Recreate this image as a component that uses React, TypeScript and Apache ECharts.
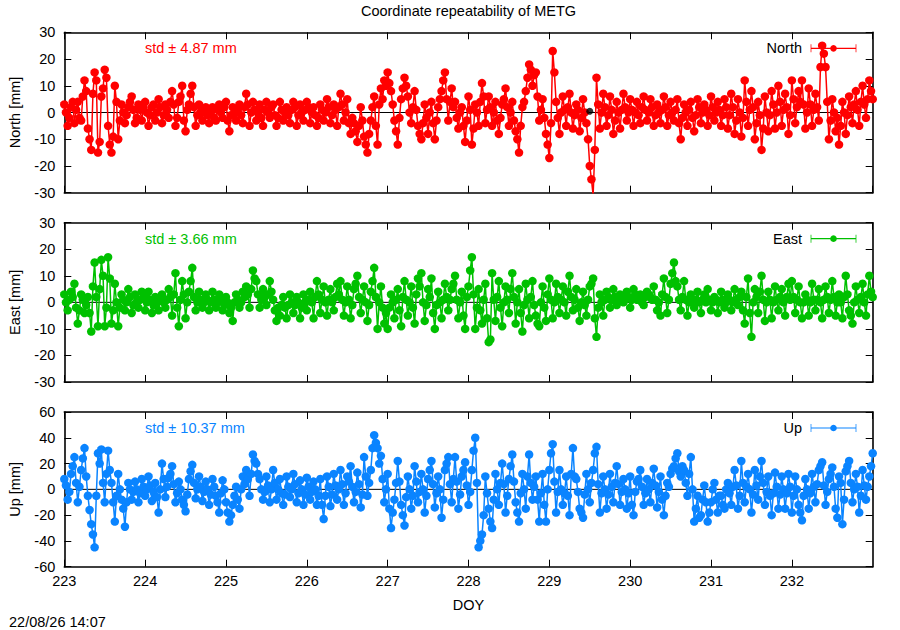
import React, { useEffect, useRef } from "react";
import * as echarts from "echarts";

const DOY_START = 223;
const DOY_END = 233;
const TITLE = "Coordinate repeatability of METG";
const TIMESTAMP = "22/08/26 14:07";
const X_NAME = "DOY";

// half-hourly samples, DOY 223.0 .. 233.0 (values in mm)
const north = [
  3, 0, -5, -2, 2, 4, -4, 1, 4, -2, -3, 6, 12, 8, -6, -10, -14, 7, 15, 12,
  -15, -11, 6, 9, 16, 13, -5, -12, -15, -9, 10, 4, -10, -3, 3, 0, -4, -1, 2, 4,
  6, 1, -4, -2, 3, 1, -3, 2, 4, 0, -5, -1, 2, 3, -3, 0, 5, 2, -4, -1,
  3, 1, -2, 4, 8, 3, -5, -2, 4, 6, 10, -3, -7, 1, 3, 7, 10, 2, -5, -1,
  3, 0, -3, 1, 2, -1, -4, 0, 2, -2, -3, 1, 3, 0, -2, 2, 4, -3, -7, -1,
  2, 0, -3, 1, 3, -1, -4, 2, 7, 3, -5, 0, 4, 1, -3, 0, 3, -2, -5, 1,
  4, 0, -2, 2, 3, -1, -5, -2, 4, 1, -3, 0, 2, -1, -4, 1, 4, 2, -5, -1,
  3, 0, -3, 1, 4, 2, -4, 0, 2, -1, -5, -2, 3, 1, -3, 0, 5, 2, -4, -1,
  3, 1, -5, 2, 7, 3, -3, 0, 5, -4, -8, -2, -4, -7, -11, -5, 2, -3, -9, -12,
  -15, -8, -3, 2, 6, -5, -12, 3, 9, 5, 12, 10, 15, 11, 8, 3, -3, -7, -12, -2,
  5, 9, 13, 10, 6, 0, -4, 2, 8, 1, -5, -8, -10, -4, 3, -2, -8, 0, 4, -4,
  -10, -3, 2, 5, 8, 12, 15, 5, -3, 4, 9, 2, 4, -2, -6, 0, 2, -5, -11, -3,
  6, 1, -12, -6, 3, 0, -5, 4, 11, 6, -4, 1, 6, 2, -5, 0, 4, -3, -8, -2,
  3, 5, 9, 2, -5, 0, 4, -3, -7, -10, -15, -5, 2, 4, 8, 13, 18, 16, 10, 14,
  15, 6, -3, 1, 5, -2, -8, -12, -17, -4, 23, 15, 4, -2, -8, 0, 6, 1, -5, 2,
  7, 0, -6, -1, 3, 1, -7, -2, 5, 0, -4, -10, -20, -25, -31, -14, 13, 3, -6, 0,
  7, 2, -5, -1, 6, 1, -8, -3, 4, 0, -6, 1, 7, 2, -3, 0, 5, 1, -5, 0,
  4, -1, -4, 2, 6, 1, -3, 0, 5, 2, -5, -1, 3, 0, -4, 1, 6, 2, -5, -1,
  4, 0, -3, 1, 5, -4, -10, -2, 3, 0, -5, 1, 4, -2, -7, -1, 5, 2, -4, 0,
  3, 1, -5, -1, 6, 2, -3, 0, 4, 1, -5, -1, 5, 2, -6, -1, 7, 2, -8, -3,
  5, 0, -9, -2, 12, 4, -5, 1, 8, 2, -10, -4, 4, -1, -14, -6, 6, 0, -7, -1,
  8, 3, -6, 0, 10, 4, -5, 1, 7, 2, -8, -1, 12, 5, -4, 2, 8, 4, 12, 3,
  -6, 0, 9, 3, -5, 1, 7, 2, -3, 17, 25, 22, 17, 4, -10, -3, 5, 0, -7, -2,
  -12, -5, 4, 0, -8, -1, 6, 2, -4, 3, 8, 1, -5, 4, 10, 3, -2, 5, 12, 8,
  5,
];

const east = [
  3, 0, -3, 1, 4, 2, 7, -2, -8, -3, 3, 1, -4, -1, 2, -4, -11, 6, 15, 2,
  -9, 5, 16, 10, -9, -2, 17, 9, -8, -3, 7, 0, -9, -2, 3, 1, -3, 0, 5, 2,
  -4, -1, 3, 0, -2, 1, 4, 2, -3, 0, 4, 1, -4, -1, 2, 0, -3, 1, 3, 0,
  -2, 1, 5, 2, -5, 3, 11, -2, -9, 1, 8, 3, -6, 0, 4, 8, 13, 2, -3, 0,
  4, 1, -2, 0, 3, 1, -3, 0, 4, 1, -2, 0, 3, 1, -3, -1, 2, 0, -4, -2,
  -7, 0, 3, 1, -2, 0, 4, 2, 6, 3, -2, 5, 12, 9, 8, 3, -2, 1, 5, 2,
  -1, 3, 8, 4, 1, -3, -7, -2, -5, -1, 2, -2, -6, -1, 3, 0, -4, -1, 2, 0,
  -6, -2, 3, 0, -3, 1, 4, 0, -6, 2, 8, 3, -4, 1, 6, 0, -5, 1, 5, 0,
  -3, 2, 7, 3, 8, 1, -5, 0, 6, 1, -6, -1, 5, 7, 10, 2, -4, 1, 6, 0,
  -7, -1, 4, 8, 13, 2, -10, 0, 6, -2, -8, -4, -10, -2, 3, 0, -6, 1, 5, -3,
  -9, 2, 8, 1, -5, 0, 6, -2, -8, 3, 9, 6, 11, 0, -7, -1, 5, 2, 9, -4,
  -10, -1, 4, 0, -6, 1, 7, 2, -3, 1, 5, 7, 10, 1, -6, 0, 4, -5, -10, 2,
  6, 12, 17, 3, -10, -2, 5, -3, -8, 1, 7, -6, -15, -14, 11, 1, -7, 2, 8, -2,
  -9, 0, 6, 1, -4, 5, 11, 2, -8, 0, 5, -4, -11, -1, 7, 1, -6, 2, 8, -1,
  -5, -8, -9, 0, 6, -2, -7, 3, 9, 1, -6, 0, 7, 2, -4, 1, 6, 0, -5, 4,
  10, 2, -3, 1, 5, -2, -7, 0, 4, -1, -5, 1, 6, 7, 9, -6, -13, -2, 3, 0,
  -5, 1, 4, 2, -2, 1, 5, 2, -1, 1, 3, 2, 0, 1, 4, 2, -2, 1, 5, 3,
  1, 2, 3, 0, -1, 2, 4, 3, 2, 1, 6, 1, -3, 0, -5, 3, 9, 2, -4, 1,
  7, 11, 15, 8, 6, 1, -3, 2, 8, 1, -5, 0, 3, 1, -2, 1, 4, 0, -4, 1,
  3, 0, 5, 1, -3, 0, 2, 1, -4, 0, 4, 1, -2, 0, 3, 1, -3, 0, 5, 1,
  -1, 2, 4, -3, -8, 2, 9, -4, -13, 0, 5, 2, -4, 4, 10, 1, -7, 0, 4, 1,
  -6, 0, 6, 1, -3, 2, 5, 0, -5, 2, 7, 1, 8, 2, -4, 1, 6, 0, -6, 0,
  3, 1, -5, 0, 7, 1, -3, 1, 5, 0, -6, 1, 6, 2, -4, 1, 8, 2, -5, 0,
  3, 0, -6, 2, 10, 3, -3, -5, -8, 0, 6, 1, -4, 2, 7, 0, -5, 3, 10, 4,
  2,
];

const up = [
  8, 3, -8, -2, 12, 18, 25, 5, -10, 2, 15, 24, 32, 10, -5, -16, -27, -35, -45, -5,
  28, 20, 31, 5, -10, 12, 30, 15, 5, -10, -25, -5, 12, 0, -8, -15, -29, -10, 5, 0,
  -8, -2, 6, 0, -10, -3, 8, 2, -5, 0, 10, 3, -9, -2, 5, -6, -18, 0, 20, 8,
  -6, 2, 9, 12, 18, 4, -10, -3, 6, 0, -8, -12, -17, -4, 8, 14, 19, 5, -7, 0,
  10, 2, -9, -2, 6, 0, -12, -4, 8, 2, -5, -10, -18, -3, 7, 0, -10, -18, -25, -20,
  -12, -5, 2, -8, -15, 0, 10, 4, 15, 8, -5, 12, 27, 22, 20, 12, 8, 0, -8, -2,
  10, 3, -10, 0, 15, 5, -8, 0, 8, -3, -12, -4, 10, 2, -6, 0, 12, 4, -10, -3,
  7, 0, -12, -4, 9, 2, -8, -2, 6, 0, -12, -5, 8, -12, -23, -5, 10, 2, -13, -4,
  12, 3, -8, 0, 15, 4, -12, -3, 10, 6, 18, 2, -10, -2, 13, 4, -14, -4, 25, 10,
  -5, 5, 15, 32, 42, 36, 32, 20, 26, 8, -10, 0, 12, -15, -30, -18, -8, 5, 22, 6,
  -12, -20, -28, -6, 10, 0, -15, -5, 18, 6, -10, -2, 12, 0, -18, -5, 8, 15, 22, 4,
  -14, -3, 10, 0, -22, -8, 15, 20, 25, 4, -10, 8, 25, 6, -15, -4, 10, 15, 21, 3,
  -12, -2, 15, 30, 40, 5, -45, -40, -35, -20, 10, -3, -15, -25, -30, -8, 12, 0, -12, 5,
  20, 4, -18, -5, 8, 18, 27, 6, -10, -18, -25, -3, 12, 0, -15, 10, 27, 5, -8, 2,
  10, -8, -25, -3, 12, -12, -25, 0, 15, 28, 35, 6, -18, -2, 15, 0, -12, -3, 10, -5,
  -20, 12, 32, 10, 8, -2, -15, -18, -22, -4, 12, 0, -10, 5, 15, 28, 33, 4, -18, -3,
  10, 0, -15, -4, 12, 2, -10, 5, 18, 4, -12, -2, 8, 0, -15, -3, 10, -12, -20, -2,
  6, 8, 15, 2, -12, -3, 8, 0, -10, 5, 16, 3, -14, -2, 10, -8, -20, -5, 5, 2,
  12, 16, 18, 24, 28, 14, 10, 18, 15, 5, -5, 12, 25, 0, -25, -15, -5, -22, -20, -8,
  3, -10, -25, -18, -10, 0, 5, -8, -18, -5, -5, -12, -15, 0, 5, -3, -12, 2, 15, 3,
  -15, -5, 22, 5, -10, 2, 12, 0, -18, -4, 15, 3, -8, 10, 22, 5, -12, -2, 10, -5,
  -20, -3, 13, 2, -15, -4, 10, 0, -15, -3, 12, 2, -18, -5, 10, 0, -12, -18, -24, -5,
  8, 0, -15, -3, 12, 2, -10, 4, 15, 18, 21, 3, -12, -2, 8, 12, 17, 2, -15, -22,
  10, 5, -27, -8, 14, 18, 22, 5, -10, 0, 12, 2, -18, -5, 15, 3, -8, 2, 10, 18,
  28,
];

const northExtraPoint = [[229.5, 0.5]];

const stdValues = ["4.87", "3.66", "10.37"];
const seriesNames = ["North", "East", "Up"];
const yNames = ["North [mm]", "East [mm]", "Up [mm]"];
const yMins = [-30, -30, -60];
const yMaxs = [30, 30, 60];
const yIntervals = [10, 10, 20];

const COLORS = ["#ff0000", "#00c000", "#0a84ff"];
const BAR_COLORS = ["rgba(255,0,0,0.5)", "rgba(0,192,0,0.5)", "rgba(10,132,255,0.5)"];
const FONT = '"Liberation Sans", Arial, Helvetica, sans-serif';
const FS = 14.5;

const LEFT = 64.3;
const RIGHT_EDGE = 872.7;
const PANELS = [
  { top: 32.3, bottom: 192.7 },
  { top: 222.7, bottom: 382 },
  { top: 412, bottom: 566.7 },
];

function toPairs(arr: number[]) {
  const n = arr.length;
  return arr.map((v, i) => [DOY_START + ((DOY_END - DOY_START) * i) / (n - 1), v]);
}

export default function App() {
  const ref = useRef<HTMLDivElement>(null);
  useEffect(() => {
    if (!ref.current) return;
    const chart = echarts.init(ref.current, null, { renderer: "svg" });
    const datasets = [north, east, up];

    const grids = PANELS.map((p) => ({
      left: LEFT,
      right: 900 - RIGHT_EDGE,
      top: p.top,
      height: p.bottom - p.top,
      containLabel: false,
    }));

    const axisLine = { show: true, onZero: false, lineStyle: { color: "#000", width: 1.6 } };
    const tick = { show: true, inside: true, length: 7, lineStyle: { color: "#000", width: 1 } };
    const xAxes: any[] = [];
    const yAxes: any[] = [];
    PANELS.forEach((_, i) => {
      xAxes.push({
        type: "value",
        gridIndex: i,
        min: DOY_START,
        max: DOY_END,
        interval: 1,
        position: "bottom",
        axisLine,
        axisTick: tick,
        axisLabel: {
          show: i === 2,
          showMaxLabel: false,
          color: "#000",
          fontSize: FS,
          fontFamily: FONT,
          margin: 7,
        },
        splitLine: { show: false },
      });
      xAxes.push({
        type: "value",
        gridIndex: i,
        min: DOY_START,
        max: DOY_END,
        interval: 1,
        position: "top",
        axisLine,
        axisTick: tick,
        axisLabel: { show: false },
        splitLine: { show: false },
      });
      yAxes.push({
        type: "value",
        gridIndex: i,
        min: yMins[i],
        max: yMaxs[i],
        interval: yIntervals[i],
        position: "left",
        axisLine,
        axisTick: tick,
        axisLabel: { color: "#000", fontSize: FS, fontFamily: FONT, margin: 9 },
        splitLine: { show: false },
      });
      yAxes.push({
        type: "value",
        gridIndex: i,
        min: yMins[i],
        max: yMaxs[i],
        interval: yIntervals[i],
        position: "right",
        axisLine,
        axisTick: tick,
        axisLabel: { show: false },
        splitLine: { show: false },
      });
    });

    const series: any[] = [];
    datasets.forEach((d, i) => {
      series.push({
        type: "line",
        xAxisIndex: 2 * i,
        yAxisIndex: 2 * i,
        data: [
          [DOY_START, 0],
          [DOY_END, 0],
        ],
        symbol: "none",
        lineStyle: { color: "#000", width: 1 },
        silent: true,
        z: 1,
      });
      series.push({
        type: "line",
        name: seriesNames[i],
        xAxisIndex: 2 * i,
        yAxisIndex: 2 * i,
        data: toPairs(d),
        symbol: "circle",
        symbolSize: 8.5,
        showAllSymbol: true,
        itemStyle: { color: COLORS[i] },
        lineStyle: { color: COLORS[i], width: 1.5 },
        clip: true,
        z: 2,
      });
    });
    series.push({
      type: "scatter",
      xAxisIndex: 0,
      yAxisIndex: 0,
      data: northExtraPoint,
      symbol: "circle",
      symbolSize: 7,
      itemStyle: { color: "#000" },
      z: 3,
    });

    const graphic: any[] = [
      {
        type: "text",
        x: (LEFT + RIGHT_EDGE) / 2,
        y: 11,
        style: { text: TITLE, fill: "#000", font: `${FS}px ${FONT}`, align: "center", verticalAlign: "middle" },
      },
      {
        type: "text",
        x: (LEFT + RIGHT_EDGE) / 2,
        y: 605,
        style: { text: X_NAME, fill: "#000", font: `${FS}px ${FONT}`, align: "center", verticalAlign: "middle" },
      },
      {
        type: "text",
        x: 9,
        y: 622,
        style: { text: TIMESTAMP, fill: "#000", font: `${FS}px ${FONT}`, align: "left", verticalAlign: "middle" },
      },
    ];
    PANELS.forEach((p, i) => {
      const mid = (p.top + p.bottom) / 2;
      const ly = p.top + 16;
      graphic.push({
        type: "text",
        x: 15,
        y: mid,
        rotation: Math.PI / 2,
        style: { text: yNames[i], fill: "#000", font: `${FS}px ${FONT}`, align: "center", verticalAlign: "middle" },
      });
      graphic.push({
        type: "text",
        x: 145,
        y: ly,
        style: {
          text: `std \u00b1 ${stdValues[i]} mm`,
          fill: COLORS[i],
          font: `${FS}px ${FONT}`,
          align: "left",
          verticalAlign: "middle",
        },
      });
      graphic.push({
        type: "text",
        x: 802,
        y: ly,
        style: { text: seriesNames[i], fill: "#000", font: `${FS}px ${FONT}`, align: "right", verticalAlign: "middle" },
      });
      graphic.push({
        type: "line",
        shape: { x1: 811, y1: ly, x2: 856, y2: ly },
        style: { stroke: COLORS[i], lineWidth: 1.2 },
      });
      graphic.push({
        type: "line",
        shape: { x1: 811, y1: ly - 4, x2: 811, y2: ly + 4 },
        style: { stroke: BAR_COLORS[i], lineWidth: 1.5 },
      });
      graphic.push({
        type: "line",
        shape: { x1: 856, y1: ly - 4, x2: 856, y2: ly + 4 },
        style: { stroke: BAR_COLORS[i], lineWidth: 1.5 },
      });
      graphic.push({
        type: "circle",
        shape: { cx: 833.5, cy: ly, r: 3.3 },
        style: { fill: COLORS[i] },
      });
    });

    chart.setOption({
      animation: false,
      backgroundColor: "#fff",
      textStyle: { fontFamily: FONT },
      grid: grids,
      xAxis: xAxes,
      yAxis: yAxes,
      series,
      graphic,
    });
    return () => chart.dispose();
  }, []);

  return (
    <div
      ref={ref}
      style={{ position: "fixed", left: 0, top: 0, width: 900, height: 630, background: "#fff" }}
    />
  );
}
